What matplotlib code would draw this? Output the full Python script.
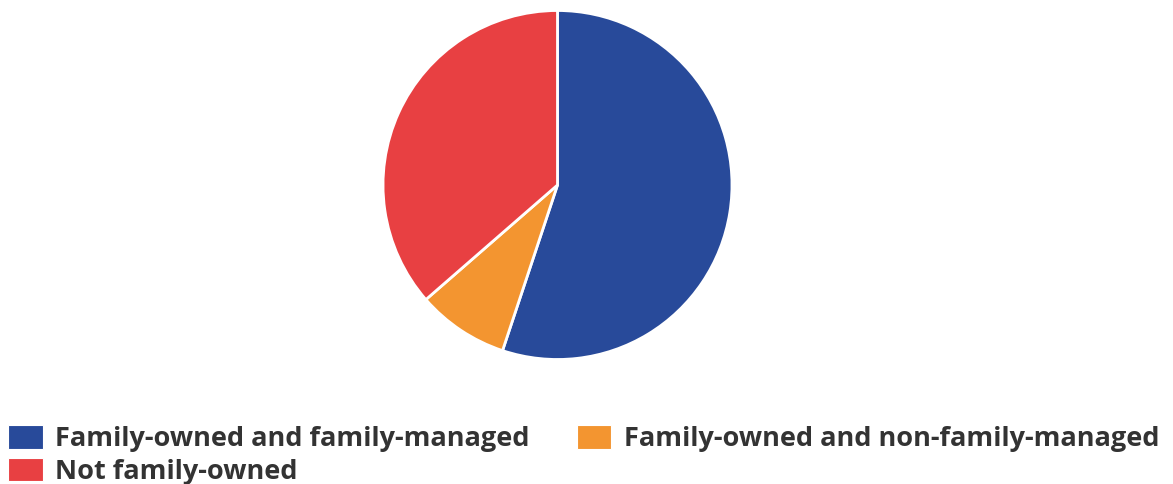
import matplotlib.pyplot as plt
from matplotlib.patches import Patch

plt.rcParams['font.family'] = ['Open Sans', 'DejaVu Sans']

# ownership shares (%)
labels = ['Family-owned and family-managed',
          'Family-owned and non-family-managed',
          'Not family-owned']
shares = [55.1, 8.5, 36.4]
colors = ['#284a9a', '#f39530', '#e84042']

W, H = 1173, 484
fig = plt.figure(figsize=(W / 100, H / 100), dpi=100)

# pie centred at (557, 185) px from the top, radius 174 px
cx, cy, r = 557.5, 185, 174.5
ax = fig.add_axes([(cx - r) / W, (H - cy - r) / H, 2 * r / W, 2 * r / H])
ax.pie(shares, colors=colors, startangle=90, counterclock=False, radius=1,
       wedgeprops=dict(edgecolor='white', linewidth=2))
ax.set_xlim(-1, 1)
ax.set_ylim(-1, 1)
ax.set_aspect('equal')
ax.axis('off')

# legend: two columns, filled column-wise
order = [0, 2, 1]
handles = [Patch(facecolor=colors[i], edgecolor='white', linewidth=0.8) for i in order]
fig.legend(handles, [labels[i] for i in order], ncol=2, frameon=False,
           loc='upper left', bbox_to_anchor=(8 / W, 1 - 425 / H),
           borderpad=0, borderaxespad=0,
           handlelength=1.28, handleheight=0.97, handletextpad=0.45,
           columnspacing=1.75, labelspacing=0.2,
           prop=dict(size=19.5, weight='bold'), labelcolor='#333333')

fig.savefig('out.png', dpi=100)
